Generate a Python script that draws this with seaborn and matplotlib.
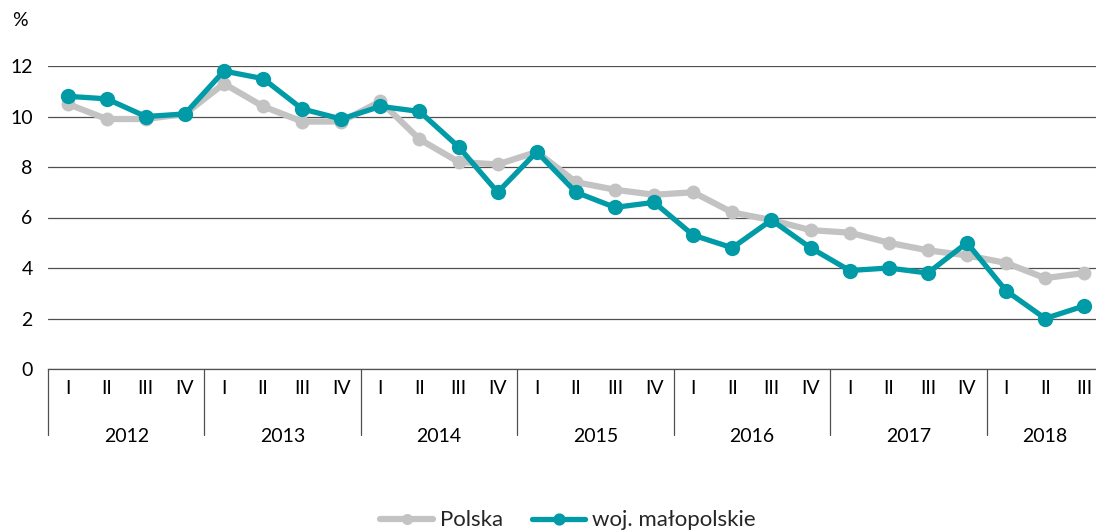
import matplotlib
matplotlib.use("Agg")
import matplotlib.pyplot as plt
import matplotlib.transforms as mtransforms
import seaborn as sns
import pandas as pd

years = ["2012", "2013", "2014", "2015", "2016", "2017", "2018"]
quarters = ["I", "II", "III", "IV"]
quarter_labels = [q for y in years for q in quarters][:27]
polska = [10.5, 9.9, 9.9, 10.1, 11.3, 10.4, 9.8, 9.8, 10.6, 9.1, 8.2, 8.1,
          8.6, 7.4, 7.1, 6.9, 7.0, 6.2, 5.9, 5.5, 5.4, 5.0, 4.7, 4.5,
          4.2, 3.6, 3.8]
malopolskie = [10.8, 10.7, 10.0, 10.1, 11.8, 11.5, 10.3, 9.9, 10.4, 10.2, 8.8, 7.0,
               8.6, 7.0, 6.4, 6.6, 5.3, 4.8, 5.9, 4.8, 3.9, 4.0, 3.8, 5.0,
               3.1, 2.0, 2.5]
yticks = [0, 2, 4, 6, 8, 10, 12]

sns.set_theme(style="white")
plt.rcParams['font.family'] = ['Lato', 'DejaVu Sans']

TEAL = "#009BA6"
GRAY = "#C3C3C3"
GRID = "#505050"
TXT = "#000000"
FS = 14

fig = plt.figure(figsize=(10.96, 5.31), dpi=100)
ax = fig.add_axes([48/1096, 162/531, 1 - 48/1096, 303/531])

df = pd.DataFrame({"idx": list(range(len(polska))), "Polska": polska,
                   "woj. małopolskie": malopolskie})

sns.lineplot(data=df, x="idx", y="Polska", ax=ax, color=GRAY, lw=4.5,
             marker="o", markersize=10, markeredgewidth=0, label="Polska",
             clip_on=False, zorder=3)
sns.lineplot(data=df, x="idx", y="woj. małopolskie", ax=ax, color=TEAL, lw=3.8,
             marker="o", markersize=11, markeredgewidth=0, label="woj. małopolskie",
             clip_on=False, zorder=4)

ax.set_ylim(0, 12)
ax.set_xlim(-0.5, 26.3)
ax.set_yticks(yticks)
ax.set_yticklabels([str(v) for v in yticks], fontsize=FS, color=TXT)
ax.yaxis.grid(True, color=GRID, lw=0.9)
ax.xaxis.grid(False)
for s in ["left", "right", "top"]:
    ax.spines[s].set_visible(False)
ax.spines["bottom"].set_color(GRID)
ax.spines["bottom"].set_linewidth(0.9)
ax.tick_params(axis="y", length=0, pad=11)
ax.set_xticks(range(len(quarter_labels)))
ax.set_xticklabels(quarter_labels, fontsize=FS, color=TXT)
ax.tick_params(axis="x", length=0, pad=8)
ax.set_xlabel("")
ax.set_ylabel("")

trans = mtransforms.blended_transform_factory(ax.transData, ax.transAxes)
sep_depth = -66 / 303
for i, y in enumerate(years):
    start = i * 4 - 0.5
    ax.plot([start, start], [0, sep_depth], transform=trans, color=GRID,
            lw=0.9, clip_on=False)
    n = min(4, len(quarter_labels) - i * 4)
    center = i * 4 + (n - 1) / 2
    ax.text(center, -68 / 303, y, transform=trans, ha="center", va="center",
            fontsize=FS, color=TXT)

fig.text(20/1096, 1 - 20/531, "%", ha="center", va="center", fontsize=FS,
         color=TXT)

ax.get_legend().remove()
h, l = ax.get_legend_handles_labels()
fig.legend(h, l, loc="center", bbox_to_anchor=(0.518, 0.02), ncol=2,
           frameon=False, fontsize=16, handlelength=2.4, handletextpad=0.3,
           columnspacing=1.3, markerscale=0.8)

fig.savefig("out.png", dpi=100)
